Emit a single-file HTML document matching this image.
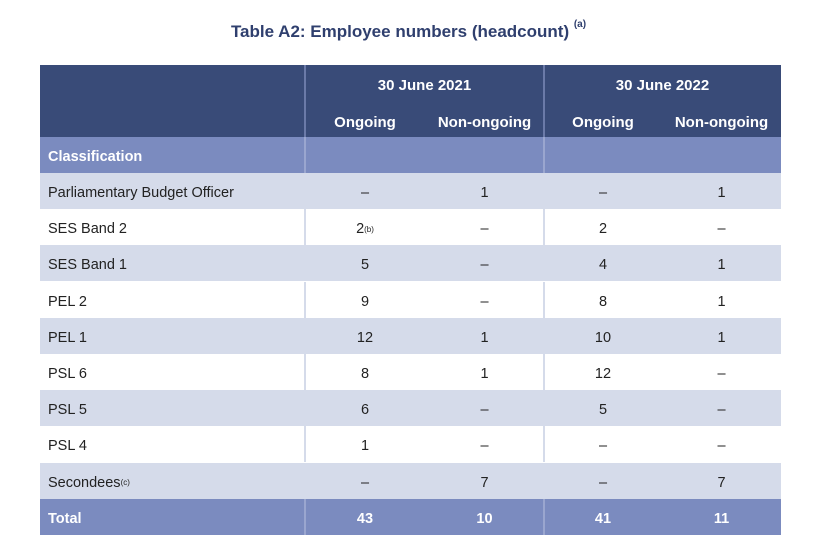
<!DOCTYPE html>
<html><head><style>
body{margin:0;width:817px;height:553px;background:#fff;font-family:"Liberation Sans",sans-serif;position:relative;overflow:hidden}
.t{position:absolute;left:0;width:817px;top:22px;text-align:center;font-weight:bold;font-size:17px;color:#2f3f6e}
.t sup{font-size:10px;position:relative;top:-3px}
.r{position:absolute;left:40px;width:741px;height:36px;font-size:14.5px;color:#222}
.c{position:absolute;top:2px;height:100%;display:flex;align-items:center;justify-content:center}
.l{position:absolute;left:8px;top:2px;height:100%;display:flex;align-items:center}
.v{position:absolute;top:0;height:100%;width:2px}
sup{font-size:8px}
</style></head><body>
<div class="t">Table A2: Employee numbers (headcount) <sup>(a)</sup></div>
<div style="position:absolute;left:40px;top:65px;width:741px;height:72px;background:#394b78;color:#fff;font-weight:bold;font-size:15px">
 <div class="v" style="left:264px;background:#6b7aa8"></div><div class="v" style="left:503px;background:#6b7aa8"></div>
 <div style="position:absolute;left:265px;width:239px;top:12px;text-align:center">30 June 2021</div>
 <div style="position:absolute;left:504px;width:237px;top:12px;text-align:center">30 June 2022</div>
 <div style="position:absolute;left:265px;width:120px;top:49px;text-align:center">Ongoing</div>
 <div style="position:absolute;left:385px;width:119px;top:49px;text-align:center">Non-ongoing</div>
 <div style="position:absolute;left:504px;width:118px;top:49px;text-align:center">Ongoing</div>
 <div style="position:absolute;left:622px;width:119px;top:49px;text-align:center">Non-ongoing</div>
</div>
<div class="r" style="top:137px;background:#7b8bbf;color:#fff;font-weight:bold"><div class="v" style="left:264px;background:#9aa6cf"></div><div class="v" style="left:503px;background:#9aa6cf"></div><div class="l">Classification</div></div>
<div id="rows"></div>
<script>
var d=[["Parliamentary Budget Officer","–","1","–","1"],["SES Band 2","2<sup>(b)</sup>","–","2","–"],["SES Band 1","5","–","4","1"],["PEL 2","9","–","8","1"],["PEL 1","12","1","10","1"],["PSL 6","8","1","12","–"],["PSL 5","6","–","5","–"],["PSL 4","1","–","–","–"],["Secondees<sup>(c)</sup>","–","7","–","7"]];
var h="",xs=[[265,120],[385,119],[504,118],[622,119]];
d.forEach(function(r,i){var bg=i%2==0?"#d5dbea":"#fff";h+='<div class="r" style="top:'+(173+i*36.2)+'px;background:'+bg+'"><div class="v" style="left:264px;background:#d5dbea"></div><div class="v" style="left:503px;background:#d5dbea"></div><div class="l">'+r[0]+'</div>';for(var j=0;j<4;j++)h+='<div class="c" style="left:'+xs[j][0]+'px;width:'+xs[j][1]+'px">'+r[j+1]+'</div>';h+='</div>';});
h+='<div class="r" style="top:499px;background:#7b8bbf;color:#fff;font-weight:bold"><div class="v" style="left:264px;background:#9aa6cf"></div><div class="v" style="left:503px;background:#9aa6cf"></div><div class="l">Total</div>';
["43","10","41","11"].forEach(function(v,j){h+='<div class="c" style="left:'+xs[j][0]+'px;width:'+xs[j][1]+'px">'+v+'</div>';});
h+='</div>';
document.getElementById("rows").innerHTML=h;
</script>
</body></html>
